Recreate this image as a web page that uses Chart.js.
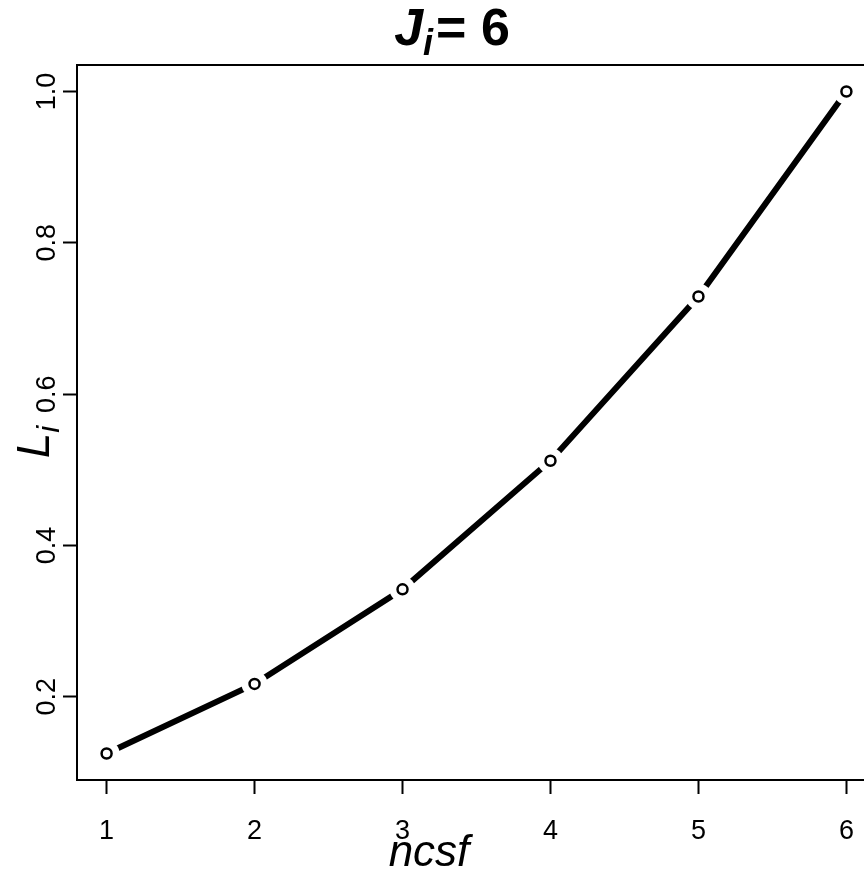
<!DOCTYPE html>
<html>
<head>
<meta charset="utf-8">
<script src="https://cdn.jsdelivr.net/npm/chart.js@4.4.0/dist/chart.umd.min.js"></script>
<style>
  html, body { margin: 0; padding: 0; background: #fff; overflow: hidden; }
  #wrap { width: 880px; height: 893px; }
</style>
</head>
<body>
<div id="wrap"><canvas id="chart-li" width="880" height="893"></canvas></div>
<script>
// values
const ncsf = [1, 2, 3, 4, 5, 6];
const liValues = [0.125, 0.217, 0.342, 0.512, 0.729, 1.0];
const xTicks = [1, 2, 3, 4, 5, 6];
const yTicks = [0.2, 0.4, 0.6, 0.8, 1.0];
const xRange = [0.8, 6.2];
const yRange = [0.09, 1.035];

const FONT = '"Liberation Sans", Arial, Helvetica, sans-serif';

const points = ncsf.map(function (x, i) {
    return { x: x, y: liValues[i] };
});

// box, main title and axis titles (with subscripts)
const frameAndLabels = {
    id: 'frameAndLabels',
    afterDraw(chart) {
        const ctx = chart.ctx;
        const a = chart.chartArea;
        ctx.save();
        ctx.strokeStyle = '#000';
        ctx.lineWidth = 2;
        ctx.strokeRect(a.left, a.top, a.right - a.left, a.bottom - a.top);

        ctx.fillStyle = '#000';
        ctx.textBaseline = 'alphabetic';
        ctx.textAlign = 'left';

        // title  J_i = 6
        const big = 'bold italic 52px ' + FONT;
        const sub = 'bold italic 36px ' + FONT;
        const rest = 'bold 52px ' + FONT;
        ctx.font = big; const wJ = ctx.measureText('J').width;
        ctx.font = sub; const wi = ctx.measureText('i').width;
        ctx.font = rest; const wr = ctx.measureText('= 6').width;
        const gap = 3;
        let x0 = 452 - (wJ + wi + gap + wr) / 2;
        const base = 45;
        ctx.font = big; ctx.fillText('J', x0, base);
        ctx.font = sub; ctx.fillText('i', x0 + wJ, base + 10);
        ctx.font = rest; ctx.fillText('= 6', x0 + wJ + wi + gap, base);

        // x title
        ctx.font = 'italic 44px ' + FONT;
        ctx.textAlign = 'center';
        ctx.fillText('ncsf', 429, 866);

        // y title  L_i
        ctx.translate(49, 442);
        ctx.rotate(-Math.PI / 2);
        ctx.textAlign = 'left';
        ctx.font = 'italic 46px ' + FONT;
        const wL = ctx.measureText('L').width;
        ctx.font = 'italic 32px ' + FONT;
        const wsub = ctx.measureText('i').width;
        const start = -(wL + wsub) / 2;
        ctx.font = 'italic 46px ' + FONT;
        ctx.fillText('L', start, 0);
        ctx.font = 'italic 32px ' + FONT;
        ctx.fillText('i', start + wL, 10);
        ctx.restore();
    }
};

const tickGrid = {
    display: true,
    drawOnChartArea: false,
    drawTicks: true,
    tickLength: 14,
    tickWidth: 2,
    tickColor: '#000'
};

new Chart(document.getElementById('chart-li'), {
    type: 'line',
    data: {
        datasets: [
            {
                // open circles on top
                data: points,
                showLine: false,
                pointRadius: 5,
                pointBorderWidth: 2.5,
                pointBorderColor: '#000',
                pointBackgroundColor: '#fff',
                order: 1
            },
            {
                // white gaps round the points, like type = "b"
                data: points,
                showLine: false,
                pointRadius: 13,
                pointBorderWidth: 0,
                pointBackgroundColor: '#fff',
                pointBorderColor: '#fff',
                order: 2
            },
            {
                data: points,
                borderColor: '#000',
                borderWidth: 6,
                borderCapStyle: 'butt',
                tension: 0,
                pointRadius: 0,
                order: 3
            }
        ]
    },
    options: {
        responsive: false,
        animation: false,
        layout: { autoPadding: false, padding: { left: 0, top: 65, right: 4, bottom: 0 } },
        plugins: {
            legend: { display: false },
            tooltip: { enabled: false },
            title: { display: false }
        },
        scales: {
            x: {
                type: 'linear',
                min: xRange[0],
                max: xRange[1],
                border: { display: false },
                grid: tickGrid,
                afterFit: function (scale) {
                    scale.height = 113;
                    scale.paddingLeft = 0;
                    scale.paddingRight = 0;
                },
                afterBuildTicks: function (scale) {
                    scale.ticks = xTicks.map(function (v) { return { value: v }; });
                },
                ticks: {
                    color: '#000',
                    font: { family: FONT, size: 27 },
                    padding: 21,
                    maxRotation: 0,
                    callback: function (v) { return String(v); }
                }
            },
            y: {
                type: 'linear',
                min: yRange[0],
                max: yRange[1],
                border: { display: false },
                grid: tickGrid,
                afterFit: function (scale) {
                    scale.width = 77;
                    scale.paddingTop = 0;
                    scale.paddingBottom = 0;
                },
                afterBuildTicks: function (scale) {
                    scale.ticks = yTicks.map(function (v) { return { value: v }; });
                },
                ticks: {
                    color: '#000',
                    font: { family: FONT, size: 27 },
                    padding: -3,
                    minRotation: 90,
                    maxRotation: 90,
                    crossAlign: 'center',
                    callback: function (v) { return v.toFixed(1); }
                }
            }
        }
    },
    plugins: [frameAndLabels]
});
</script>
</body>
</html>
